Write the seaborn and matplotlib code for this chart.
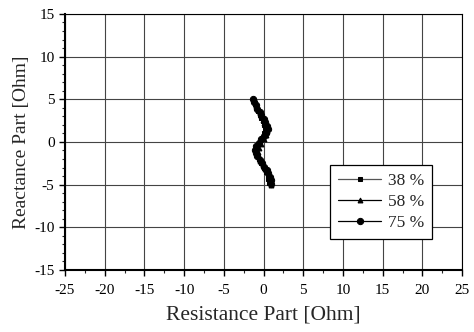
import numpy as np
import pandas as pd
import seaborn as sns
import matplotlib
matplotlib.use("Agg")
import matplotlib.pyplot as plt
from matplotlib.ticker import MultipleLocator

# Data (impedance loci)
x_38 = [-1.2, -1.1, -0.9, -0.7, -0.5, -0.3, -0.1, 0.1, 0.2, 0.1, -0.2, -0.5, -0.8, -0.9, -0.8, -0.6, -0.3, 0.0, 0.3, 0.5, 0.6, 0.7]
y_38 = [4.8, 4.4, 4.0, 3.6, 3.2, 2.8, 2.4, 2.0, 1.5, 1.0, 0.5, 0.0, -0.5, -1.0, -1.5, -2.0, -2.5, -3.0, -3.5, -4.0, -4.4, -4.8]
x_58 = [-1.0, -0.9, -0.7, -0.5, -0.3, -0.1, 0.1, 0.3, 0.4, 0.3, 0.0, -0.3, -0.6, -0.7, -0.6, -0.4, -0.1, 0.2, 0.5, 0.7, 0.8, 0.9]
y_58 = [4.6, 4.2, 3.8, 3.4, 3.0, 2.6, 2.2, 1.8, 1.3, 0.8, 0.3, -0.2, -0.7, -1.2, -1.7, -2.2, -2.7, -3.2, -3.7, -4.2, -4.6, -5.0]
x_75 = [-1.3, -1.2, -1.0, -0.8, -0.5, -0.3, 0.0, 0.2, 0.4, 0.5, 0.3, 0.0, -0.3, -0.6, -0.9, -1.1, -1.0, -0.8, -0.5, -0.2, 0.1, 0.4, 0.6, 0.8, 0.9, 1.0]
y_75 = [5.0, 4.7, 4.3, 3.9, 3.5, 3.1, 2.7, 2.3, 1.9, 1.5, 1.1, 0.7, 0.3, -0.1, -0.5, -0.9, -1.3, -1.7, -2.1, -2.5, -2.9, -3.3, -3.7, -4.1, -4.5, -4.9]
labels = ["38 %", "58 %", "75 %"]
x_ticks = [-25, -20, -15, -10, -5, 0, 5, 10, 15, 20, 25]
y_ticks = [-15, -10, -5, 0, 5, 10, 15]

sns.set_style("white")
plt.rcParams['font.family'] = ['Liberation Serif', 'DejaVu Serif']
plt.rcParams['axes.unicode_minus'] = False

fig = plt.figure(figsize=(4.74, 3.32), dpi=100)
ax = fig.add_axes([0.137, 0.187, 0.838, 0.771])

series = [(x_38, y_38, "s", "#555555", 3.5),
          (x_58, y_58, "^", "black", 3.5),
          (x_75, y_75, "o", "black", 4.5)]
for (xs, ys, mk, col, ms), lab in zip(series, labels):
    df = pd.DataFrame({"R": xs, "X": ys})
    sns.lineplot(data=df, x="R", y="X", sort=False, estimator=None, ax=ax,
                 color=col, marker=mk, markersize=ms, markeredgecolor="black",
                 markerfacecolor="black", linewidth=0.9, label=lab)

ax.set_xlim(-25, 25)
ax.set_ylim(-15, 15)
ax.set_xticks(x_ticks)
ax.set_yticks(y_ticks)
ax.xaxis.set_minor_locator(MultipleLocator(2.5))
ax.yaxis.set_minor_locator(MultipleLocator(1))
ax.grid(True, which="major", color="#444444", linewidth=0.8)
ax.set_axisbelow(True)
for s in ax.spines.values():
    s.set_color("black")
    s.set_linewidth(0.8)
ax.spines["left"].set_linewidth(1.5)
ax.spines["bottom"].set_linewidth(1.5)
ax.tick_params(which="major", direction="out", length=4, width=1, labelsize=11,
               bottom=True, left=True, colors="black")
ax.tick_params(axis="x", which="major", pad=6)
ax.tick_params(which="minor", direction="out", length=2, width=0.8,
               bottom=True, left=True)
ax.set_xlabel("Resistance Part [Ohm]", fontsize=15.5, labelpad=6)
ax.set_ylabel("Reactance Part [Ohm]", fontsize=14, labelpad=3)

leg = ax.legend(loc="lower right", bbox_to_anchor=(0.925, 0.12), fontsize=12.5,
                frameon=True, fancybox=False, edgecolor="black", framealpha=1,
                handlelength=2.5, handletextpad=0.4, borderpad=0.45,
                labelspacing=0.3, borderaxespad=0)
leg.get_frame().set_linewidth(0.9)

fig.savefig("out.png", dpi=100)
